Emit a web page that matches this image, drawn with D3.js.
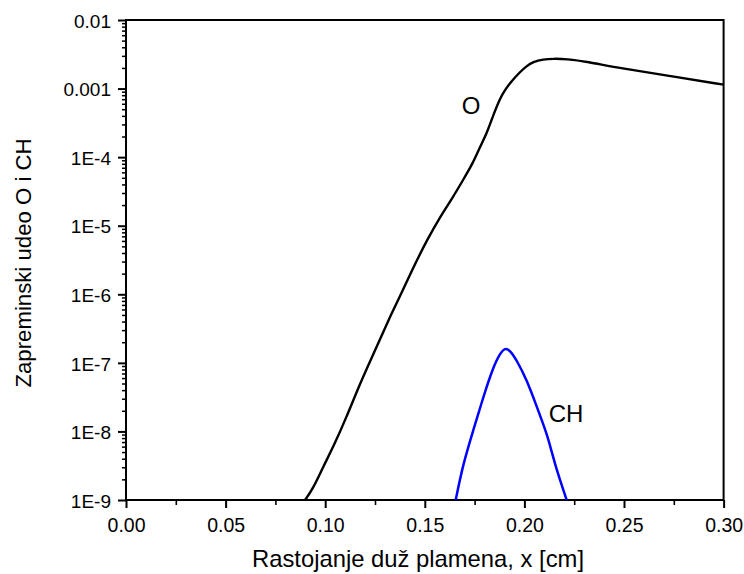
<!DOCTYPE html>
<html>
<head>
<meta charset="utf-8">
<script src="https://cdn.jsdelivr.net/npm/d3@7"></script>
<style>
html,body{margin:0;padding:0;background:#fff;}
text{font-family:"Liberation Sans",Arial,sans-serif;fill:#000;}
</style>
</head>
<body>
<svg id="chart" width="744" height="574"></svg>
<script>
// ---- data ----
const oX = [0.0899,0.0940,0.0990,0.1041,0.1108,0.1175,0.1259,0.1325,0.1367,0.1436,0.1511,0.1576,0.1642,0.1692,0.1742,0.1777,0.1812,0.1842,0.1878,0.1903,0.1928,0.1978,0.2011,0.2043,0.2095,0.2145,0.2212,0.2313,0.248,0.2731,0.30];
const oY = [1e-9,1.48e-9,3.06e-9,5.98e-9,1.64e-8,5.04e-8,1.72e-7,4.71e-7,8.26e-7,2.26e-6,6.19e-6,1.34e-5,2.62e-5,4.64e-5,8.22e-5,1.41e-4,2.25e-4,3.98e-4,7.28e-4,9.53e-4,1.21e-3,1.75e-3,2.13e-3,2.44e-3,2.67e-3,2.73e-3,2.70e-3,2.47e-3,1.98e-3,1.53e-3,1.14e-3];
const chX = [0.1655,0.1693,0.1744,0.1794,0.1844,0.1878,0.1903,0.1928,0.1961,0.2012,0.2062,0.2112,0.2137,0.2162,0.2212];
const chY = [1e-9,3.43e-9,1.05e-8,3.21e-8,8.79e-8,1.38e-7,1.66e-7,1.52e-7,1.10e-7,5.62e-8,2.30e-8,9.4e-9,5.06e-9,2.74e-9,1e-9];
const xTicks = [0,0.05,0.10,0.15,0.20,0.25,0.30];
const xTickLabels = ["0.00","0.05","0.10","0.15","0.20","0.25","0.30"];
const xMinor = [0.025,0.075,0.125,0.175,0.225,0.275];
const yTicks = [1e-2,1e-3,1e-4,1e-5,1e-6,1e-7,1e-8,1e-9];
const yTickLabels = ["0.01","0.001","1E-4","1E-5","1E-6","1E-7","1E-8","1E-9"];

// ---- layout ----
const L = 126, R = 723.6, T = 20, B = 500;
const svg = d3.select("#chart");
const x = d3.scaleLinear().domain([0,0.30]).range([L,R]);
const y = d3.scaleLog().domain([1e-9,1e-2]).range([B,T]);

// minor y ticks
const yMinor = [];
for (let e = -9; e < -2; e++) for (let m = 2; m <= 9; m++) yMinor.push(m*Math.pow(10,e));

// clip
svg.append("clipPath").attr("id","clip").append("rect")
  .attr("x",L).attr("y",T).attr("width",R-L).attr("height",B-T);

// axes
const gx = svg.append("g").attr("transform",`translate(0,${B})`)
  .call(d3.axisBottom(x).tickValues(xTicks).tickSize(8).tickSizeOuter(0)
    .tickFormat((d,i)=>xTickLabels[i]));
gx.selectAll("text").attr("font-size",19.5).attr("y",31.5).attr("dy",null);
const gxm = svg.append("g").attr("transform",`translate(0,${B})`)
  .call(d3.axisBottom(x).tickValues(xMinor).tickSize(5).tickSizeOuter(0).tickFormat(""));

const gy = svg.append("g").attr("transform",`translate(${L},0)`)
  .call(d3.axisLeft(y).tickValues(yTicks).tickSize(8).tickSizeOuter(0)
    .tickFormat((d,i)=>yTickLabels[i]));
gy.selectAll("text").attr("font-size",19).attr("x",-15).attr("dy","0.38em");
const gym = svg.append("g").attr("transform",`translate(${L},0)`)
  .call(d3.axisLeft(y).tickValues(yMinor).tickSize(4).tickSizeOuter(0).tickFormat(""));

[gx,gxm,gy,gym].forEach(g=>{
  g.select(".domain").remove();
  g.selectAll("line").attr("stroke","#000").attr("stroke-width",2);
});
gxm.selectAll("line").attr("stroke-width",1.6);
gym.selectAll("line").attr("stroke-width",1.5);

// frame
svg.append("rect").attr("x",L).attr("y",T).attr("width",R-L).attr("height",B-T)
  .attr("fill","none").attr("stroke","#000").attr("stroke-width",2);

// lines
const line = d3.line().x(d=>x(d[0])).y(d=>y(d[1])).curve(d3.curveBasis);
const plot = svg.append("g").attr("clip-path","url(#clip)");
plot.append("path").datum(oX.map((v,i)=>[v,oY[i]]))
  .attr("d",line).attr("fill","none").attr("stroke","#000").attr("stroke-width",2.4)
  .attr("stroke-linejoin","round");
plot.append("path").datum(chX.map((v,i)=>[v,chY[i]]))
  .attr("d",line).attr("fill","none").attr("stroke","#0000ff").attr("stroke-width",2.5)
  .attr("stroke-linejoin","round");

// series labels
svg.append("text").attr("x",x(0.1732)).attr("y",y(5.75e-4)).attr("font-size",24)
  .attr("text-anchor","middle").attr("dy","0.36em").text("O");
svg.append("text").attr("x",x(0.2209)).attr("y",y(1.86e-8)).attr("font-size",24)
  .attr("text-anchor","middle").attr("dy","0.36em").text("CH");

// axis titles
svg.append("text").attr("x",418).attr("y",567).attr("font-size",23.8)
  .attr("text-anchor","middle").text("Rastojanje duž plamena, x [cm]");
svg.append("text").attr("transform",`translate(31,263) rotate(-90)`).attr("font-size",22.2)
  .attr("text-anchor","middle").text("Zapreminski udeo O i CH");
</script>
</body>
</html>
